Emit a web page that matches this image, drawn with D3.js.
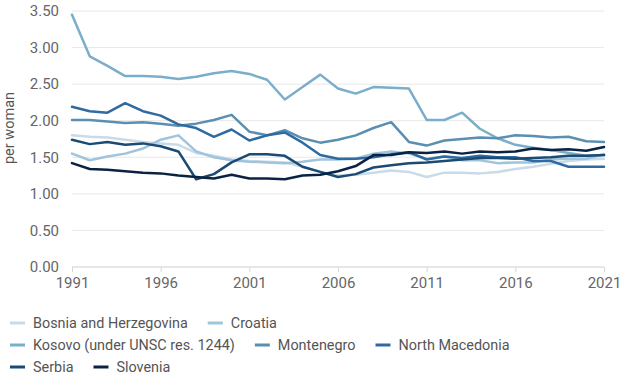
<!DOCTYPE html>
<html><head><meta charset="utf-8">
<script src="https://cdn.jsdelivr.net/npm/d3@7"></script>
<style>
html,body{margin:0;padding:0;background:#fff;}
text{font-family:Roboto,"Noto Sans",Arial,sans-serif;}
</style></head>
<body>
<svg id="chart" width="620" height="378"></svg>
<script>
const years = d3.range(1991, 2022);
const countries = ["Bosnia and Herzegovina","Croatia","Kosovo (under UNSC res. 1244)","Montenegro","North Macedonia","Serbia","Slovenia"];
const colors = ["#c9dbe9","#9fc4dc","#7aaeca","#5a8fb2","#2f6aa0","#1b4a74","#0b2343"];
const bosnia = [1.80,1.78,1.77,1.74,1.71,1.69,1.67,1.56,1.52,1.47,1.45,1.44,1.43,1.37,1.30,1.25,1.26,1.29,1.32,1.30,1.23,1.29,1.29,1.28,1.30,1.34,1.37,1.41,1.45,1.47,1.48];
const croatia = [1.55,1.46,1.51,1.55,1.62,1.74,1.80,1.58,1.50,1.46,1.44,1.43,1.42,1.44,1.47,1.47,1.48,1.55,1.58,1.55,1.48,1.51,1.46,1.46,1.42,1.43,1.43,1.47,1.48,1.48,1.54];
const kosovo = [3.45,2.88,2.75,2.61,2.61,2.60,2.57,2.60,2.65,2.68,2.64,2.56,2.29,2.46,2.63,2.44,2.37,2.46,2.45,2.44,2.01,2.01,2.11,1.89,1.76,1.67,1.63,1.60,1.56,1.52,1.53];
const montenegro = [2.01,2.01,1.99,1.97,1.98,1.96,1.93,1.96,2.01,2.08,1.85,1.80,1.87,1.76,1.70,1.74,1.80,1.90,1.98,1.71,1.66,1.73,1.75,1.77,1.76,1.80,1.79,1.77,1.78,1.72,1.71];
const northMacedonia = [2.19,2.13,2.11,2.24,2.13,2.07,1.95,1.90,1.78,1.88,1.73,1.80,1.84,1.70,1.53,1.48,1.48,1.50,1.54,1.57,1.47,1.51,1.49,1.52,1.50,1.50,1.45,1.45,1.37,1.37,1.37];
const serbia = [1.74,1.68,1.71,1.67,1.69,1.65,1.58,1.20,1.27,1.43,1.54,1.54,1.52,1.37,1.30,1.23,1.27,1.36,1.39,1.42,1.43,1.45,1.47,1.49,1.49,1.48,1.49,1.50,1.52,1.52,1.53];
const slovenia = [1.42,1.34,1.33,1.31,1.29,1.28,1.25,1.23,1.21,1.26,1.21,1.21,1.20,1.25,1.26,1.31,1.38,1.53,1.53,1.57,1.56,1.58,1.55,1.58,1.57,1.58,1.62,1.60,1.61,1.59,1.64];
const yTicks = [0,0.5,1,1.5,2,2.5,3,3.5];
const xTicks = [1991,1996,2001,2006,2011,2016,2021];
const yLabel = "per woman";

const seriesValues = [bosnia,croatia,kosovo,montenegro,northMacedonia,serbia,slovenia];
const series = countries.map((c,i)=>({name:c,color:colors[i],values:seriesValues[i].map((v,j)=>({year:years[j],value:v}))}));

const svg = d3.select("#chart");
const x = d3.scaleLinear().domain([1991,2021]).range([72,604]);
const y = d3.scaleLinear().domain([0,3.5]).range([267,11]);

// grid
svg.append("g").selectAll("line").data(yTicks).join("line")
  .attr("x1",x(1991)).attr("x2",x(2021))
  .attr("y1",d=>y(d)).attr("y2",d=>y(d))
  .attr("stroke",d=>d===0?"#cfcfcf":"#e8e8e8").attr("stroke-width",1);

// y axis labels
const yAxis = svg.append("g").attr("transform","translate(59,0)")
  .call(d3.axisLeft(y).tickValues(yTicks).tickFormat(d3.format(".2f")).tickSize(0).tickPadding(0));
yAxis.select(".domain").remove();
yAxis.selectAll("text").attr("font-size",15).attr("fill","#666").style("font-family","Roboto");

// x axis
const xAxis = svg.append("g").attr("transform",`translate(0,${y(0)})`)
  .call(d3.axisBottom(x).tickValues(xTicks).tickFormat(d3.format("d")).tickSize(5).tickPadding(5));
xAxis.select(".domain").remove();
xAxis.selectAll("line").attr("stroke","#d8d8d8");
xAxis.selectAll("text").attr("font-size",15).attr("fill","#666").style("font-family","Roboto");

svg.append("text").attr("transform","translate(14,128) rotate(-90)")
  .attr("text-anchor","middle").attr("font-size",14.5).attr("fill","#555").text(yLabel);

// lines
const line = d3.line().x(d=>x(d.year)).y(d=>y(d.value));
svg.append("g").selectAll("path").data(series).join("path")
  .attr("d",d=>line(d.values)).attr("fill","none")
  .attr("stroke",d=>d.color).attr("stroke-width",2.5)
  .attr("stroke-linejoin","round").attr("stroke-linecap","round");

// legend (flow layout)
const leg = svg.append("g");
let lx = 10, row = 0;
const rowY = [323,345,367], maxW = 515, gap = 20;
series.forEach(s=>{
  const g = leg.append("g");
  g.append("line").attr("x1",0).attr("x2",15).attr("y1",0).attr("y2",0)
    .attr("stroke",s.color).attr("stroke-width",3);
  const t = g.append("text").attr("x",23).attr("y",5).attr("font-size",14.4).attr("fill","#555").text(s.name);
  const w = 23 + t.node().getComputedTextLength();
  if (lx > 10 && lx + w > maxW) { row++; lx = 10; }
  g.attr("transform",`translate(${lx},${rowY[row]})`);
  lx += w + gap;
});
</script>
</body></html>
